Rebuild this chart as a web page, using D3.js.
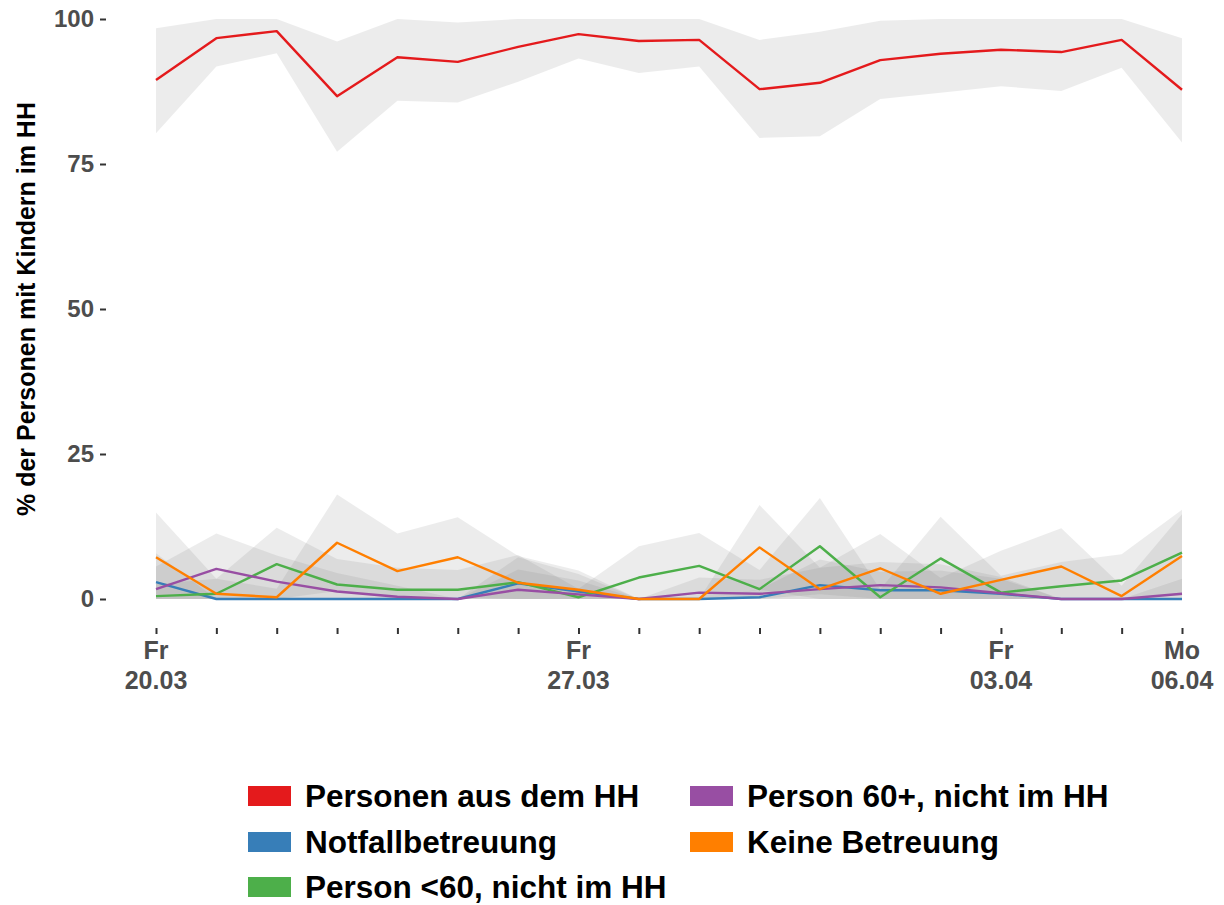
<!DOCTYPE html>
<html>
<head>
<meta charset="utf-8">
<script src="https://cdn.jsdelivr.net/npm/d3@7"></script>
<style>
  body { margin: 0; background: #fff; }
  svg { display: block; font-family: "Liberation Sans", Arial, sans-serif; }
</style>
</head>
<body>
<svg width="1224" height="905"></svg>
<script>
// Days (x index 0..17 = 20.03 .. 06.04)
const days = d3.range(18);
const tickLabels = [
  { day: 0, top: "Fr", bottom: "20.03" },
  { day: 7, top: "Fr", bottom: "27.03" },
  { day: 14, top: "Fr", bottom: "03.04" },
  { day: 17, top: "Mo", bottom: "06.04" }
];
const yTicks = [0, 25, 50, 75, 100];

const seriesNames = ["Personen aus dem HH", "Notfallbetreuung", "Person <60, nicht im HH", "Person 60+, nicht im HH", "Keine Betreuung"];
const seriesColors = ["#E41A1C", "#377EB8", "#4DAF4A", "#984EA3", "#FF7F00"];

// values (%)
const hhValues      = [89.5, 96.7, 97.9, 86.7, 93.4, 92.6, 95.2, 97.4, 96.2, 96.4, 87.9, 89.0, 92.9, 94.0, 94.7, 94.3, 96.4, 87.8];
const notfallValues = [2.9, 0, 0, 0, 0, 0, 2.7, 1.3, 0, 0, 0.3, 2.4, 1.5, 1.5, 0.9, 0, 0, 0];
const u60Values     = [0.5, 0.9, 6.0, 2.5, 1.6, 1.6, 2.9, 0.3, 3.7, 5.7, 1.7, 9.1, 0.3, 7.0, 1.1, 2.2, 3.2, 8.0];
const o60Values     = [1.7, 5.2, 3.0, 1.3, 0.4, 0, 1.6, 0.8, 0, 1.1, 0.9, 1.7, 2.4, 2.0, 1.0, 0, 0, 0.9];
const keineValues   = [7.2, 0.9, 0.3, 9.7, 4.8, 7.2, 2.8, 1.6, 0, 0, 8.9, 1.7, 5.3, 0.9, 3.3, 5.6, 0.5, 7.4];

// confidence band bounds (%)
const hhLow       = [80.3, 91.8, 94.1, 77.1, 85.9, 85.6, 89.2, 93.2, 90.7, 91.8, 79.5, 79.8, 86.2, 87.3, 88.4, 87.6, 91.6, 78.7];
const hhHigh      = [98.4, 100, 100, 96.1, 100, 99.4, 100, 100, 100, 100, 96.4, 97.8, 99.7, 100, 100, 100, 100, 96.7];
const notfallLow  = [0, 0, 0, 0, 0, 0, 0, 0, 0, 0, 0, 0, 0, 0, 0, 0, 0, 0];
const notfallHigh = [7.9, 0, 0, 0, 0, 0, 7.2, 4.3, 0, 0, 1.7, 6.8, 4.7, 4.9, 3.5, 0, 0, 0];
const u60Low      = [0, 0, 0, 0, 0, 0, 0, 0, 0, 0, 0, 0.8, 0, 0, 0, 0, 0, 0.6];
const u60High     = [2.6, 3.5, 12.3, 6.9, 5.4, 5.0, 7.6, 1.75, 9.1, 11.4, 5.0, 17.4, 1.7, 14.2, 4.0, 6.4, 7.7, 15.4];
const o60Low      = [0, 0, 0, 0, 0, 0, 0, 0, 0, 0, 0, 0, 0, 0, 0, 0, 0, 0];
const o60High     = [5.6, 11.3, 7.5, 4.5, 2.3, 0, 5.1, 3.2, 0, 3.7, 3.3, 5.4, 6.4, 6.0, 3.8, 0, 0, 3.5];
const keineLow    = [0, 0, 0, 1.4, 0, 0.3, 0, 0, 0, 0, 1.6, 0, 0, 0, 0, 0, 0, 0.2];
const keineHigh   = [14.9, 3.5, 1.75, 18.0, 11.3, 14.1, 7.4, 4.9, 0, 0, 16.2, 5.4, 11.2, 3.6, 8.3, 12.2, 2.3, 14.6];

const series = [
  { values: hhValues, low: hhLow, high: hhHigh },
  { values: notfallValues, low: notfallLow, high: notfallHigh },
  { values: u60Values, low: u60Low, high: u60High },
  { values: o60Values, low: o60Low, high: o60High },
  { values: keineValues, low: keineLow, high: keineHigh }
].map((s, i) => ({ ...s, name: seriesNames[i], color: seriesColors[i] }));

const svg = d3.select("svg");
const x = d3.scaleLinear().domain([0, 17]).range([156, 1182]);
const y = d3.scaleLinear().domain([0, 100]).range([599, 19]);

// Ribbons first
const area = d3.area()
  .x((d, i) => x(days[i]))
  .y0(d => y(d[0]))
  .y1(d => y(d[1]));

svg.append("g")
  .selectAll("path")
  .data(series)
  .join("path")
  .attr("d", s => area(s.low.map((l, i) => [l, s.high[i]])))
  .attr("fill", "#7f7f7f")
  .attr("fill-opacity", 0.15);

// Lines
const line = d3.line()
  .x((d, i) => x(days[i]))
  .y(d => y(d));

svg.append("g")
  .selectAll("path")
  .data(series)
  .join("path")
  .attr("d", s => line(s.values))
  .attr("fill", "none")
  .attr("stroke", s => s.color)
  .attr("stroke-width", 2.4)
  .attr("stroke-linejoin", "round");

// Y axis
const yAxis = svg.append("g")
  .attr("transform", "translate(106,0)")
  .call(d3.axisLeft(y).tickValues(yTicks).tickSize(6).tickPadding(6));
yAxis.select(".domain").remove();
yAxis.selectAll("line").attr("stroke", "#333").attr("stroke-width", 2);
yAxis.selectAll("text")
  .attr("fill", "#4d4d4d")
  .attr("font-size", 24)
  .attr("font-weight", "bold")
  .attr("font-family", "Liberation Sans, Arial, sans-serif");

// X axis
const xAxis = svg.append("g")
  .attr("transform", "translate(0,628)")
  .call(d3.axisBottom(x).tickValues(days).tickSize(6).tickFormat(""));
xAxis.select(".domain").remove();
xAxis.selectAll("line").attr("stroke", "#333").attr("stroke-width", 2);

const xl = svg.append("g")
  .selectAll("text")
  .data(tickLabels)
  .join("text")
  .attr("x", d => x(d.day))
  .attr("text-anchor", "middle")
  .attr("fill", "#4d4d4d")
  .attr("font-size", 25)
  .attr("font-weight", "bold");
xl.append("tspan").attr("x", d => x(d.day)).attr("y", 659).text(d => d.top);
xl.append("tspan").attr("x", d => x(d.day)).attr("y", 689).text(d => d.bottom);

// Y title
svg.append("text")
  .attr("transform", "translate(35,309) rotate(-90)")
  .attr("text-anchor", "middle")
  .attr("font-size", 25)
  .attr("font-weight", "bold")
  .attr("fill", "#000")
  .text("% der Personen mit Kindern im HH");

// Legend (2 columns, filled by column)
const legendPos = [
  { col: 0, row: 0 }, { col: 0, row: 1 }, { col: 0, row: 2 },
  { col: 1, row: 0 }, { col: 1, row: 1 }
];
const colX = [248, 690];
const rowY = [796, 842, 887];
const legend = svg.append("g")
  .selectAll("g")
  .data(series)
  .join("g")
  .attr("transform", (s, i) => `translate(${colX[legendPos[i].col]},${rowY[legendPos[i].row]})`);
legend.append("rect")
  .attr("x", 0).attr("y", -10)
  .attr("width", 43).attr("height", 20)
  .attr("fill", s => s.color);
legend.append("text")
  .attr("x", 57).attr("y", 11)
  .attr("font-size", 31.5)
  .attr("font-weight", "bold")
  .attr("fill", "#000")
  .text(s => s.name);
</script>
</body>
</html>
